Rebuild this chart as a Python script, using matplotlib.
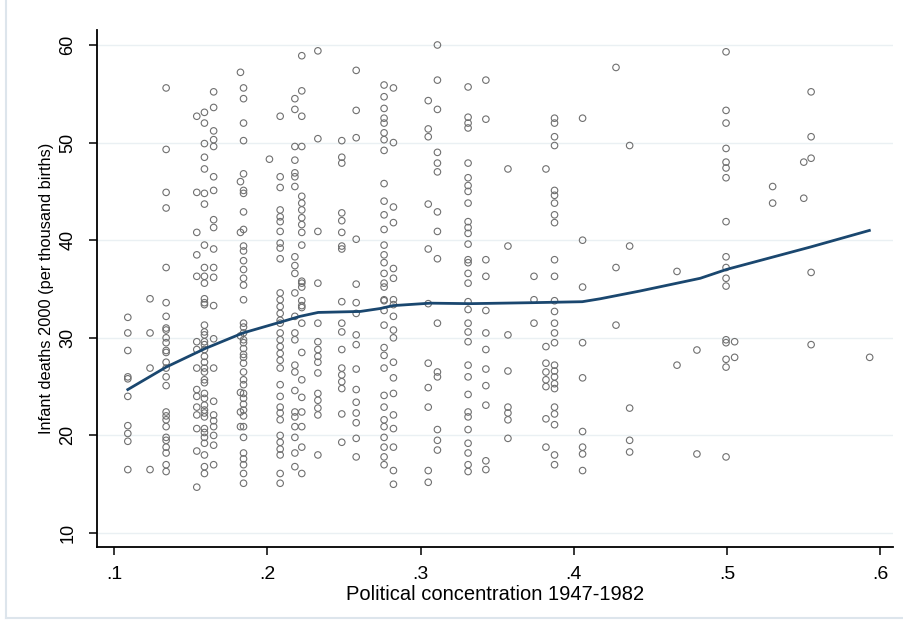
import matplotlib.pyplot as plt
from matplotlib.lines import Line2D

# political concentration columns (x) and the infant deaths (y)
col_x = [0.109, 0.1235, 0.134, 0.154, 0.159, 0.165, 0.1825, 0.1845, 0.2014, 0.2084,
         0.218, 0.2225, 0.233, 0.2486, 0.258, 0.2762, 0.2823, 0.305, 0.311, 0.331,
         0.3426, 0.357, 0.374, 0.3818, 0.3874, 0.4057, 0.4275, 0.4364, 0.4673, 0.4803,
         0.4993, 0.5049, 0.5297, 0.55, 0.5548, 0.593]

col_y = [
    [32.1, 30.5, 28.7, 26.0, 25.8, 24.0, 21.0, 20.2, 19.4, 16.5],
    [34.0, 30.5, 26.9, 16.5],
    [55.6, 49.3, 44.9, 43.3, 37.2, 33.6, 32.2, 31.0, 30.8, 30.0, 29.5, 28.7, 28.5, 27.5,
     26.9, 26.0, 25.1, 22.4, 22.0, 21.6, 20.9, 19.8, 19.5, 18.8, 18.2, 17.0, 16.3],
    [52.7, 44.9, 40.8, 38.5, 36.3, 29.6, 28.8, 26.9, 24.7, 24.0, 22.9, 22.1, 20.7, 18.4, 14.7],
    [53.1, 52.0, 49.9, 48.5, 47.3, 44.8, 43.7, 39.5, 37.2, 36.3, 35.6, 34.0, 33.6, 33.4,
     31.3, 30.6, 30.3, 29.6, 29.3, 28.8, 28.1, 27.5, 26.9, 26.5, 25.7, 25.4, 24.3, 23.8,
     23.1, 22.6, 22.3, 21.9, 20.7, 20.3, 19.8, 19.2, 18.0, 16.8, 16.1],
    [55.2, 53.6, 51.2, 50.3, 49.6, 46.5, 45.1, 42.1, 41.3, 39.1, 37.2, 36.2, 33.3, 29.9,
     26.9, 23.5, 22.1, 21.5, 20.9, 20.0, 19.0, 17.0],
    [57.2, 46.0, 40.8, 30.2, 24.4, 22.4, 20.9],
    [55.6, 54.5, 52.0, 50.2, 46.8, 45.1, 44.8, 42.9, 41.1, 39.4, 38.9, 37.9, 37.0, 36.1,
     35.4, 33.9, 31.5, 31.1, 30.5, 29.8, 29.5, 28.9, 28.3, 28.0, 27.4, 26.5, 25.7, 25.2,
     24.3, 23.8, 23.2, 22.6, 22.0, 20.9, 19.8, 18.2, 17.6, 17.0, 16.1, 15.1],
    [48.3],
    [52.7, 46.5, 45.4, 43.1, 42.4, 41.9, 40.9, 39.7, 39.2, 38.1, 34.6, 33.9, 33.2, 32.5,
     31.8, 31.5, 30.5, 29.8, 29.1, 28.4, 27.7, 26.9, 25.2, 24.0, 22.9, 22.3, 21.6, 20.0,
     19.3, 18.6, 18.0, 16.1, 15.1],
    [54.5, 53.4, 49.6, 48.2, 46.9, 46.5, 45.5, 38.3, 37.4, 36.6, 34.6, 32.2, 30.5, 29.8,
     27.2, 26.5, 24.6, 22.4, 21.9, 20.9, 19.8, 18.2, 16.8],
    [58.9, 55.3, 52.7, 49.6, 44.5, 43.8, 43.1, 42.3, 41.6, 40.8, 39.5, 35.8, 35.2, 33.3,
     35.6, 33.8, 33.1, 31.5, 28.5, 25.7, 23.9, 22.4, 20.9, 18.8, 16.1],
    [59.4, 50.4, 40.9, 35.6, 31.5, 29.6, 28.8, 28.1, 27.5, 26.4, 24.3, 23.6, 22.8, 22.1, 18.0],
    [50.2, 48.5, 47.9, 42.8, 42.0, 40.8, 39.4, 39.1, 33.7, 31.5, 30.6, 28.8, 26.9, 26.2,
     25.5, 24.8, 22.2, 19.3],
    [57.4, 53.3, 50.5, 40.1, 35.5, 33.6, 32.5, 30.3, 29.3, 26.8, 24.7, 23.4, 22.3, 21.3,
     19.7, 17.8],
    [55.9, 54.7, 53.5, 52.5, 52.0, 51.0, 50.3, 49.2, 45.8, 44.0, 42.6, 41.1, 39.5, 38.5,
     37.7, 36.6, 35.6, 35.2, 33.9, 33.8, 32.8, 31.3, 29.0, 28.2, 26.9, 24.1, 22.9, 21.6,
     20.9, 19.8, 18.8, 17.8, 17.0],
    [55.6, 50.0, 43.4, 41.8, 37.1, 36.1, 33.9, 33.4, 32.2, 30.8, 30.0, 27.5, 25.9, 24.3,
     22.1, 20.7, 18.8, 16.4, 15.0],
    [54.3, 51.4, 50.6, 43.7, 39.1, 33.5, 27.4, 24.9, 22.9, 16.4, 15.2],
    [60.0, 56.4, 53.4, 49.0, 47.9, 47.0, 42.9, 40.9, 38.1, 31.5, 26.5, 26.0, 20.6, 19.5, 18.5],
    [55.7, 52.6, 52.0, 51.5, 47.9, 46.4, 45.6, 45.0, 43.8, 41.9, 41.3, 40.7, 39.6, 38.0,
     37.7, 36.6, 35.6, 33.7, 32.9, 31.5, 30.6, 29.6, 27.2, 26.0, 24.2, 22.4, 21.9, 20.6,
     19.2, 18.2, 17.0, 16.3],
    [56.4, 52.4, 38.0, 36.3, 32.8, 30.5, 28.8, 26.8, 25.1, 23.1, 17.4, 16.5],
    [47.3, 39.4, 30.3, 26.6, 22.9, 22.3, 21.6, 19.7],
    [36.3, 33.9, 31.5],
    [47.3, 29.1, 27.4, 26.5, 25.7, 25.0, 21.7, 18.8],
    [52.5, 52.0, 50.6, 49.7, 45.1, 44.6, 43.8, 42.6, 41.8, 38.0, 36.3, 33.8, 32.7, 31.5,
     30.5, 29.5, 27.2, 26.6, 26.0, 25.3, 24.8, 22.9, 22.2, 21.1, 18.0, 17.0],
    [52.5, 40.0, 35.2, 29.5, 25.9, 20.4, 18.8, 18.1, 16.4],
    [57.7, 37.2, 31.3],
    [49.7, 39.4, 22.8, 19.5, 18.3],
    [36.8, 27.2],
    [28.75, 18.1],
    [59.3, 53.3, 52.0, 49.4, 48.0, 47.4, 46.4, 41.9, 38.3, 37.2, 36.1, 35.3, 29.8, 29.5,
     27.8, 27.0, 17.8],
    [29.6, 28.0],
    [45.5, 43.8],
    [48.0, 44.3],
    [55.2, 50.6, 48.4, 36.7, 29.3],
    [28.0],
]

# lowess fit
fit_x = [0.109, 0.134, 0.1594, 0.1842, 0.2084, 0.2214, 0.2332, 0.2606, 0.2736, 0.2821,
         0.3063, 0.3324, 0.3728, 0.4055, 0.4172, 0.4433, 0.4825, 0.4995, 0.5543, 0.5928]
fit_y = [24.7, 27.0, 28.9, 30.5, 31.6, 32.2, 32.6, 32.7, 33.0, 33.3,
         33.55, 33.5, 33.6, 33.7, 34.0, 34.8, 36.1, 37.0, 39.3, 41.0]

x_ticks = [0.1, 0.2, 0.3, 0.4, 0.5, 0.6]
x_ticklabels = ['.1', '.2', '.3', '.4', '.5', '.6']
y_ticks = [10, 20, 30, 40, 50, 60]

xs, ys = [], []
for x, yl in zip(col_x, col_y):
    xs += [x] * len(yl)
    ys += yl

plt.rcParams['font.family'] = ['Liberation Sans', 'DejaVu Sans']

fig = plt.figure(figsize=(9.04, 6.27), dpi=100)
ax = fig.add_axes([0.1073, 0.1276, 0.881, 0.824])

for yt in y_ticks:
    ax.axhline(yt, color='#eaf0f3', lw=1, zorder=0)

ax.scatter(xs, ys, s=22, facecolors='none', edgecolors='#707070', linewidths=0.8, zorder=2)
ax.plot(fit_x, fit_y, color='#1a476f', lw=2, zorder=3)

ax.set_xlim(0.0889, 0.6085)
ax.set_ylim(8.57, 61.5)
ax.set_xticks(x_ticks)
ax.set_xticklabels(x_ticklabels)
ax.set_yticks(y_ticks)
ax.set_yticklabels([str(v) for v in y_ticks], rotation=90, va='center')

ax.spines['top'].set_visible(False)
ax.spines['right'].set_visible(False)
for s in ['left', 'bottom']:
    ax.spines[s].set_linewidth(1.3)
ax.tick_params(direction='out', length=6, width=1.1, colors='black')
ax.tick_params(axis='x', labelsize=14, pad=8)
ax.tick_params(axis='y', labelsize=13, pad=9)

ax.set_xlabel('Political concentration 1947-1982', fontsize=14.5, labelpad=1)
ax.set_ylabel('Infant deaths 2000 (per thousand births)', fontsize=11.8, labelpad=4)

# faint outer frame
fig.add_artist(Line2D([0.007, 0.007], [0.015, 1.0], color='#dde5ec', lw=1.5))
fig.add_artist(Line2D([0.007, 1.0], [0.015, 0.015], color='#dde5ec', lw=1.5))

fig.savefig('out.png', dpi=100)
